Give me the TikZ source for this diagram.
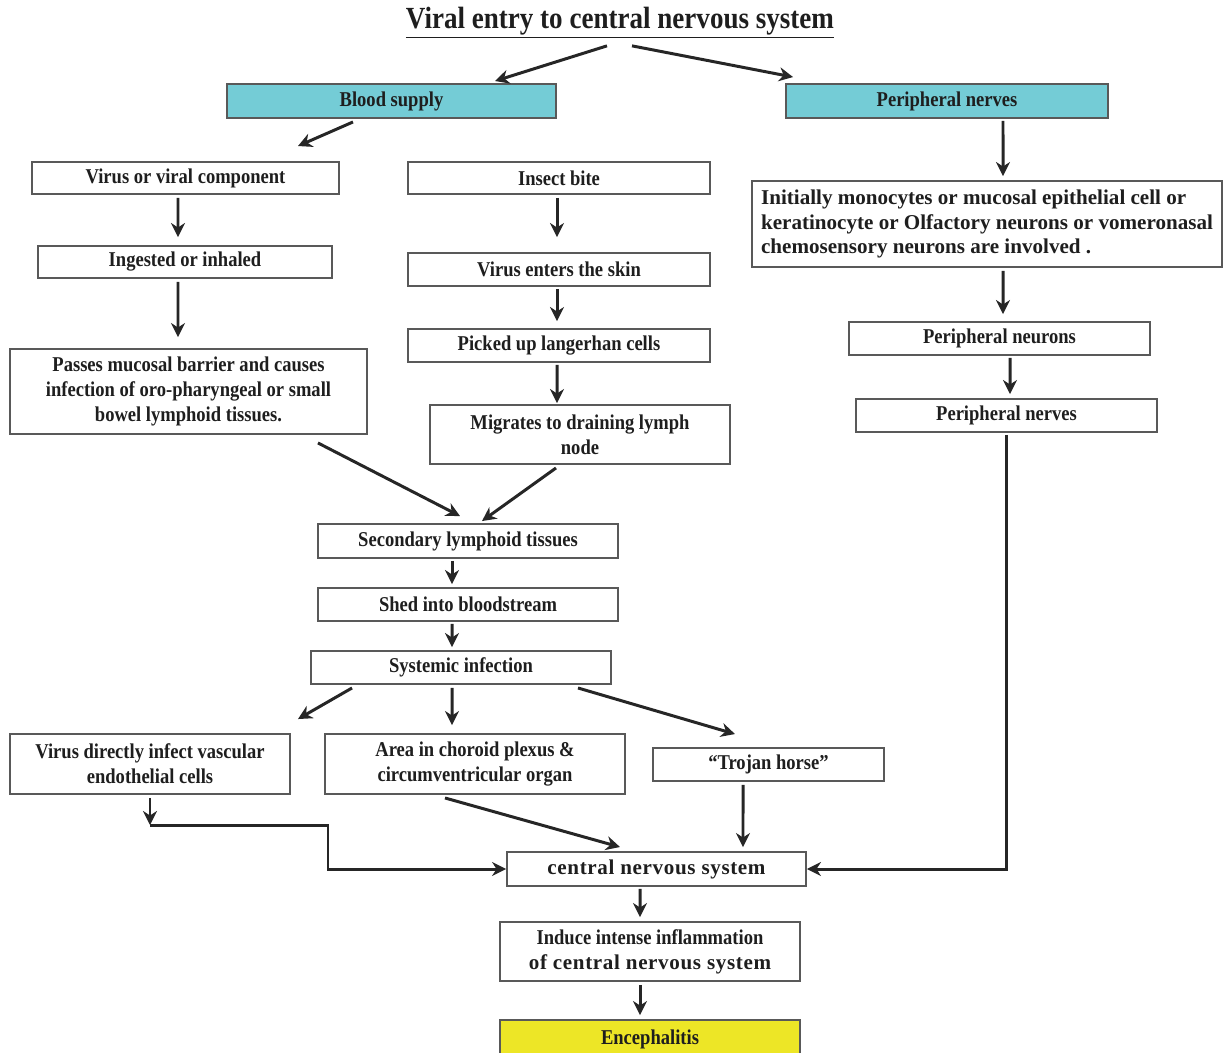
\documentclass[tikz,border=0pt]{standalone}
\usepackage{fontspec}
\setmainfont[FakeStretch=0.88]{Liberation Serif}
\newfontfamily\wideface[LetterSpace=3]{Liberation Serif}
\newfontfamily\plainface{Liberation Serif}
\usetikzlibrary{arrows.meta}
\definecolor{cyanbox}{HTML}{74CCD6}
\definecolor{yellowbox}{HTML}{EDE626}
\definecolor{inkgray}{HTML}{1E1E1E}
\tikzset{
  box/.style={draw=black!65, line width=1.1pt, fill=white, text=inkgray, align=center,
    inner sep=2pt, font=\fontsize{12}{14.2}\selectfont\bfseries},
  flow/.style={draw=black!85, line width=1.7pt, -{Stealth[length=8pt,width=8pt]}},
  wide/.style={font=\fontsize{12}{14.2}\selectfont\bfseries\wideface},
}
\begin{document}
\begin{tikzpicture}[x=0.02cm, y=-0.02cm]
\useasboundingbox (0,0) rectangle (1223,1052);
% title
\node[text=inkgray, inner sep=1pt] (title) at (620,23) {\fontsize{17.5}{20}\selectfont\bfseries\underline{Viral entry to central nervous system}};
% top row
\node[box, fill=cyanbox, minimum width=6.58cm, minimum height=0.68cm] (blood) at (391.5,101) {Blood supply};
\node[box, fill=cyanbox, minimum width=6.44cm, minimum height=0.68cm] (nervesA) at (947,101) {Peripheral nerves};
% blood supply branch
\node[box, minimum width=6.14cm, minimum height=0.64cm] (virus) at (185.5,178) {Virus or viral component};
\node[box, minimum width=5.88cm, minimum height=0.64cm] (ingested) at (185,262) {Ingested or inhaled};
\node[box, minimum width=7.14cm, minimum height=1.70cm] (passes) at (188.5,391.5) {Passes mucosal barrier and causes\\infection of oro-pharyngeal or small\\bowel lymphoid tissues.};
\node[box, minimum width=6.04cm, minimum height=0.64cm] (insect) at (559,178) {Insect bite};
\node[box, minimum width=6.04cm, minimum height=0.66cm] (skin) at (559,269.5) {Virus enters the skin};
\node[box, minimum width=6.04cm, minimum height=0.66cm] (langer) at (559,345.5) {Picked up langerhan cells};
\node[box, minimum width=6.0cm, minimum height=1.18cm] (migrates) at (580,434.5) {Migrates to draining lymph\\node};
% peripheral branch
\node[box, align=left, minimum width=9.4cm, minimum height=1.72cm, font=\fontsize{12}{14.2}\selectfont\bfseries\plainface] (initially) at (987,224) {Initially monocytes or mucosal epithelial cell or\\keratinocyte or Olfactory neurons or vomeronasal\\chemosensory neurons are involved .};
\node[box, minimum width=6.02cm, minimum height=0.66cm] (neurons) at (999.5,338.5) {Peripheral neurons};
\node[box, minimum width=6.02cm, minimum height=0.66cm] (nervesB) at (1006.5,415.5) {Peripheral nerves};
% middle column
\node[box, minimum width=6.0cm, minimum height=0.68cm] (secondary) at (468,541) {Secondary lymphoid tissues};
\node[box, minimum width=6.0cm, minimum height=0.66cm] (shed) at (468,604.5) {Shed into bloodstream};
\node[box, minimum width=6.0cm, minimum height=0.66cm] (systemic) at (461,667.5) {Systemic infection};
\node[box, minimum width=5.6cm, minimum height=1.2cm] (direct) at (150,764) {Virus directly infect vascular\\endothelial cells};
\node[box, minimum width=6.0cm, minimum height=1.2cm] (choroid) at (475,764) {Area in choroid plexus \&\\circumventricular organ};
\node[box, minimum width=4.62cm, minimum height=0.66cm] (trojan) at (768.5,764.5) {``Trojan horse''};
\node[box, wide, minimum width=5.98cm, minimum height=0.68cm] (cns) at (656.5,869) {central nervous system};
\node[box, minimum width=6.0cm, minimum height=1.18cm] (induce) at (650,951.5) {Induce intense inflammation\\{\wideface of central nervous system}};
\node[box, fill=yellowbox, minimum width=6.0cm, minimum height=0.76cm] (enceph) at (650,1039) {Encephalitis};
\coordinate (bendA) at (328,825);
% connectors
\draw[flow] ([xshift=-0.26cm,yshift=-0.1cm]title.south) -- ([xshift=2.07cm,yshift=0.04cm]blood.north);
\draw[flow] ([xshift=0.24cm,yshift=-0.1cm]title.south) -- ([xshift=-3.08cm,yshift=0.12cm]nervesA.north);
\draw[flow] ([xshift=-0.77cm,yshift=-0.06cm]blood.south) -- ([xshift=2.25cm,yshift=0.3cm]virus.north);
\draw[flow] ([xshift=-0.15cm,yshift=-0.06cm]virus.south) -- ([xshift=-0.14cm,yshift=0.16cm]ingested.north);
\draw[flow] ([xshift=-0.14cm,yshift=-0.06cm]ingested.south) -- ([xshift=-0.21cm,yshift=0.22cm]passes.north);
\draw[flow] ([xshift=-0.04cm,yshift=-0.06cm]insect.south) -- ([xshift=-0.04cm,yshift=0.3cm]skin.north);
\draw[flow] ([xshift=-0.04cm,yshift=-0.04cm]skin.south) -- ([xshift=-0.04cm,yshift=0.14cm]langer.north);
\draw[flow] ([xshift=-0.04cm,yshift=-0.04cm]langer.south) -- ([xshift=-0.46cm,yshift=0.02cm]migrates.north);
\draw[flow] ([xshift=2.59cm,yshift=-0.16cm]passes.south) -- ([xshift=-0.16cm,yshift=0.14cm]secondary.north);
\draw[flow] ([xshift=-0.48cm,yshift=-0.06cm]migrates.south) -- ([xshift=0.28cm,yshift=0.04cm]secondary.north);
\draw[flow] ([xshift=-0.32cm,yshift=-0.04cm]secondary.south) -- ([xshift=-0.32cm,yshift=0.06cm]shed.north);
\draw[flow] ([xshift=-0.32cm,yshift=-0.04cm]shed.south) -- ([xshift=-0.18cm,yshift=0.06cm]systemic.north);
\draw[flow] ([xshift=-2.18cm,yshift=-0.06cm]systemic.south) -- ([xshift=2.96cm,yshift=0.28cm]direct.north);
\draw[flow] ([xshift=-0.18cm,yshift=-0.06cm]systemic.south) -- ([xshift=-0.46cm,yshift=0.16cm]choroid.north);
\draw[flow] ([xshift=2.34cm,yshift=-0.06cm]systemic.south) -- ([xshift=-0.67cm,yshift=0.26cm]trojan.north);
\draw[flow] ([yshift=-0.06cm]direct.south) -- (direct.south |- bendA);
\draw[flow] (direct.south |- bendA) -- (bendA) -- (bendA |- cns.west) -- (cns.west);
\draw[flow] ([xshift=-0.6cm,yshift=-0.06cm]choroid.south) -- ([xshift=-0.73cm,yshift=0.08cm]cns.north);
\draw[flow] ([xshift=-0.51cm,yshift=-0.06cm]trojan.south) -- ([xshift=1.73cm,yshift=0.08cm]cns.north);
\draw[flow] ([yshift=-0.04cm]nervesB.south) -- (nervesB.south |- cns.east) -- (cns.east);
\draw[flow] ([xshift=1.12cm,yshift=-0.04cm]nervesA.south) -- ([xshift=0.32cm,yshift=0.08cm]initially.north);
\draw[flow] ([xshift=0.32cm,yshift=-0.06cm]initially.south) -- ([xshift=0.07cm,yshift=0.14cm]neurons.north);
\draw[flow] ([xshift=0.21cm,yshift=-0.04cm]neurons.south) -- ([xshift=0.07cm,yshift=0.08cm]nervesB.north);
\draw[flow] ([xshift=-0.33cm,yshift=-0.04cm]cns.south) -- ([xshift=-0.2cm,yshift=0.08cm]induce.north);
\draw[flow] ([xshift=-0.2cm,yshift=-0.06cm]induce.south) -- ([xshift=-0.2cm,yshift=0.08cm]enceph.north);
\end{tikzpicture}
\end{document}
